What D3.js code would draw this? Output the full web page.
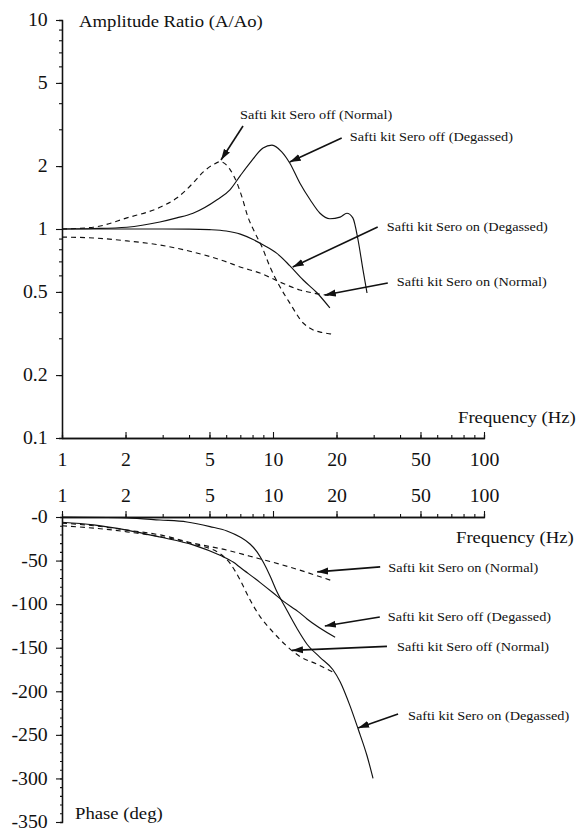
<!DOCTYPE html>
<html lang="en">
<head>
<meta charset="UTF-8">
<title>Safti kit frequency response</title>
<script src="https://d3js.org/d3.v7.min.js"></script>
<style>
  body { margin: 0; background: #fff; }
  svg, svg text { font-family: "Liberation Serif", "Times New Roman", Times, "DejaVu Serif", serif !important; fill: #111; }
</style>
</head>
<body>
<div id="chart"></div>
<script>
// ---- amplitude ratio (A/Ao) vs frequency (Hz)
const offNormalAmpF = [1, 1.41, 2.03, 2.91, 3.51, 4.18, 4.66, 5.2, 5.61, 6.25, 6.75, 7.13, 7.61, 8.22, 8.87, 9.68, 10.8, 12.0, 13.9, 15.5, 17.0, 18.6, 19.5];
const offNormalAmp  = [1.0, 1.02, 1.13, 1.27, 1.41, 1.66, 1.87, 2.03, 2.1, 1.93, 1.66, 1.42, 1.14, 0.957, 0.82, 0.658, 0.528, 0.443, 0.355, 0.329, 0.32, 0.315, 0.313];
const offDegAmpF = [1, 1.41, 2.03, 2.91, 3.5, 4.18, 5.43, 6.25, 7.0, 7.78, 8.97, 9.89, 11.0, 12.0, 13.4, 15.0, 16.7, 18.6, 20.8, 22.4, 23.9, 25.3, 26.7, 27.9];
const offDegAmp  = [1.0, 1.005, 1.02, 1.08, 1.13, 1.19, 1.38, 1.54, 1.8, 2.07, 2.44, 2.52, 2.34, 2.07, 1.66, 1.38, 1.19, 1.12, 1.14, 1.19, 1.13, 0.886, 0.637, 0.494];
const onDegAmpF = [1, 2, 3, 4, 5, 6, 7, 8, 9, 10.4, 12.0, 13.9, 16.2, 18.6];
const onDegAmp  = [1.0, 1.0, 1.0, 0.999, 0.993, 0.978, 0.945, 0.893, 0.838, 0.767, 0.668, 0.57, 0.494, 0.419];
const onNormalAmpF = [1, 1.41, 2.03, 2.91, 4.18, 6.05, 6.98, 8.67, 10.8, 13.4, 15.5, 18.6];
const onNormalAmp  = [0.915, 0.906, 0.877, 0.838, 0.776, 0.695, 0.658, 0.616, 0.557, 0.511, 0.494, 0.48];

// ---- phase (deg) vs frequency (Hz)
const onDegPhF = [1, 2.03, 2.91, 3.91, 5.03, 6.05, 6.98, 7.78, 8.4, 9.0, 9.7, 10.4, 11.4, 13.0, 14.5, 16.7, 19.2, 20.8, 23.2, 25.3, 27.9, 29.8];
const onDegPh  = [0, -1, -3.4, -5.7, -11, -16, -23, -31, -40, -52, -68, -85, -103, -128, -146, -161, -175, -189, -217, -243, -274, -300];
const onNormalPhF = [1, 1.41, 2.03, 2.91, 4.18, 6.05, 7.78, 10.0, 13.4, 16.0, 19.0];
const onNormalPh  = [-7, -10, -15, -20.5, -30, -38, -45, -52, -61, -67, -73];
const offDegPhF = [1, 1.41, 2.03, 2.91, 4.18, 5.61, 6.5, 7.0, 8.67, 10.0, 11.1, 13.4, 14.5, 19.7];
const offDegPh  = [-6, -9, -15, -23, -32, -44, -52, -58, -75, -87, -96, -110, -117, -138];
const offNormalPhF = [1, 2.03, 4.18, 5.61, 6.25, 6.98, 7.78, 8.67, 10.0, 11.6, 13.4, 16.2, 19.2];
const offNormalPh  = [-10, -17, -31, -42, -53, -72, -95, -114, -132, -148, -160, -169, -178];

// ---- ticks
const freqTicks = [1, 2, 5, 10, 20, 50, 100];
const ampTicks = [0.1, 0.2, 0.5, 1, 2, 5, 10];
const phaseTicks = [0, -50, -100, -150, -200, -250, -300, -350];

// ---- annotations (arrow tip in data units)
const ampNotes = ["Safti kit Sero off (Normal)", "Safti kit Sero off (Degassed)", "Safti kit Sero on (Degassed)", "Safti kit Sero on (Normal)"];
const ampNoteF = [5.67, 12.0, 12.4, 17.6];
const ampNoteV = [2.14, 2.09, 0.658, 0.483];
const phNotes = ["Safti kit Sero on (Normal)", "Safti kit Sero off (Degassed)", "Safti kit Sero off (Normal)", "Safti kit Sero on (Degassed)"];
const phNoteF = [16.2, 17.6, 12.3, 25.3];
const phNoteV = [-63, -125, -153, -242];

const w = 577, h = 832;
const ink = "#111";
const serif = "Liberation Serif, Times New Roman, serif";
const sx = 1.1; // scan is a little wider than tall

const svg = d3.select("#chart").append("svg")
  .attr("width", w).attr("height", h)
  .attr("font-family", serif);

svg.append("defs").append("marker")
  .attr("id", "arrow")
  .attr("markerUnits", "userSpaceOnUse")
  .attr("markerWidth", 12).attr("markerHeight", 8)
  .attr("refX", 11).attr("refY", 4)
  .attr("orient", "auto")
  .append("path")
  .attr("d", "M0,0.5 L11,4 L0,7.5 Z")
  .attr("fill", ink);

const x = d3.scaleLog().domain([1, 100]).range([62, 484]);
const yAmp = d3.scaleLog().domain([0.1, 10]).range([438, 20]);
const yPh = d3.scaleLinear().domain([-350, 0]).range([822, 517]);

// minor log ticks
const minorLog = (lo, hi) => {
  const out = [];
  for (let d = lo; d < hi; d *= 10)
    for (let k = 2; k <= 9; k++) out.push(+(d * k).toPrecision(3));
  return out;
};

const styleAxis = (g, size) => {
  g.attr("font-family", serif);
  g.select(".domain").attr("stroke", ink).attr("stroke-width", 1.3);
  g.selectAll(".tick line").attr("stroke", ink).attr("stroke-width", 1.1);
  g.selectAll(".tick text")
    .attr("font-size", size)
    .attr("font-family", serif)
    .attr("fill", ink)
    .attr("transform", "scale(" + sx + ",1)");
};

// ===== amplitude panel
const gMinX1 = svg.append("g").attr("transform", "translate(0,438)")
  .call(d3.axisBottom(x).tickValues(minorLog(1, 100)).tickSize(-3).tickFormat(""));
styleAxis(gMinX1, 17);
const gX1 = svg.append("g").attr("transform", "translate(0,438)")
  .call(d3.axisBottom(x).tickValues(freqTicks).tickSize(-6).tickSizeOuter(0).tickPadding(15).tickFormat(d3.format("d")));
styleAxis(gX1, 18);

const gMinY1 = svg.append("g").attr("transform", "translate(62,0)")
  .call(d3.axisLeft(yAmp).tickValues(minorLog(0.1, 10)).tickSize(3).tickFormat(""));
styleAxis(gMinY1, 17);
const gY1 = svg.append("g").attr("transform", "translate(62,0)")
  .call(d3.axisLeft(yAmp).tickValues(ampTicks).tickSize(6).tickSizeOuter(0).tickPadding(7).tickFormat(d => String(d)));
styleAxis(gY1, 18);

// ===== phase panel
const gMinX2 = svg.append("g").attr("transform", "translate(0,517)")
  .call(d3.axisTop(x).tickValues(minorLog(1, 100)).tickSize(3).tickFormat(""));
styleAxis(gMinX2, 17);
const gX2 = svg.append("g").attr("transform", "translate(0,517)")
  .call(d3.axisTop(x).tickValues(freqTicks).tickSize(6).tickSizeOuter(0).tickPadding(9).tickFormat(d3.format("d")));
styleAxis(gX2, 18);

const gMinY2 = svg.append("g").attr("transform", "translate(62,0)")
  .call(d3.axisLeft(yPh).tickValues(d3.range(-340, 0, 10)).tickSize(2).tickFormat(""));
styleAxis(gMinY2, 17);
const gY2 = svg.append("g").attr("transform", "translate(62,0)")
  .call(d3.axisLeft(yPh).tickValues(phaseTicks).tickSize(6).tickSizeOuter(0).tickPadding(7)
    .tickFormat(d => d === 0 ? "-0" : String(d)));
styleAxis(gY2, 18);

// axis titles
const label = (txt, px, py, size) => svg.append("text")
  .attr("transform", "translate(" + px + "," + py + ") scale(" + sx + ",1)")
  .attr("font-family", serif)
  .attr("font-size", size)
  .text(txt);

label("Amplitude Ratio (A/Ao)", 79, 27, 17);
label("Frequency (Hz)", 458, 423, 17);
label("Frequency (Hz)", 456, 543, 17);
label("Phase (deg)", 75, 819, 17);

// ===== curves
const pairs = (fs, vs) => fs.map((f, i) => [f, vs[i]]);

const ampSeries = [
  { pts: pairs(offNormalAmpF, offNormalAmp), dash: true },
  { pts: pairs(offDegAmpF, offDegAmp), dash: false },
  { pts: pairs(onDegAmpF, onDegAmp), dash: false },
  { pts: pairs(onNormalAmpF, onNormalAmp), dash: true }
];
const phSeries = [
  { pts: pairs(onDegPhF, onDegPh), dash: false },
  { pts: pairs(onNormalPhF, onNormalPh), dash: true },
  { pts: pairs(offDegPhF, offDegPh), dash: false },
  { pts: pairs(offNormalPhF, offNormalPh), dash: true }
];

const ampLine = d3.line().x(d => x(d[0])).y(d => yAmp(d[1])).curve(d3.curveMonotoneX);
const phLine = d3.line().x(d => x(d[0])).y(d => yPh(d[1])).curve(d3.curveMonotoneX);

const drawSeries = (list, gen) => {
  svg.append("g").selectAll("path")
    .data(list)
    .enter()
    .append("path")
    .attr("d", d => gen(d.pts))
    .attr("fill", "none")
    .attr("stroke", ink)
    .attr("stroke-width", 1.15)
    .attr("stroke-dasharray", d => d.dash ? "5,4" : null);
};
drawSeries(ampSeries, ampLine);
drawSeries(phSeries, phLine);

// ===== annotations: [tail dx, tail dy, text dx, text dy] from the arrow tip
const ampNoteLayout = [[22, -34, 19, -41], [52, -24, 60, -21], [85, -40, 94, -36], [63, -12, 72, -9]];
const phNoteLayout = [[63, -5, 71, 0], [55, -9, 63, -5], [95, -4, 105, 1], [40, -14, 50, -8]];

const drawNotes = (texts, fs, vs, yScale, layout) => {
  texts.forEach((t, i) => {
    const tx = x(fs[i]), ty = yScale(vs[i]);
    const [ldx, ldy, tdx, tdy] = layout[i];
    svg.append("line")
      .attr("x1", tx + ldx).attr("y1", ty + ldy)
      .attr("x2", tx).attr("y2", ty)
      .attr("stroke", ink)
      .attr("stroke-width", 1.6)
      .attr("marker-end", "url(#arrow)");
    svg.append("text")
      .attr("transform", "translate(" + (tx + tdx) + "," + (ty + tdy) + ") scale(" + sx + ",1)")
      .attr("font-family", serif)
      .attr("font-size", 13)
      .text(t);
  });
};
drawNotes(ampNotes, ampNoteF, ampNoteV, yAmp, ampNoteLayout);
drawNotes(phNotes, phNoteF, phNoteV, yPh, phNoteLayout);
</script>
</body>
</html>
